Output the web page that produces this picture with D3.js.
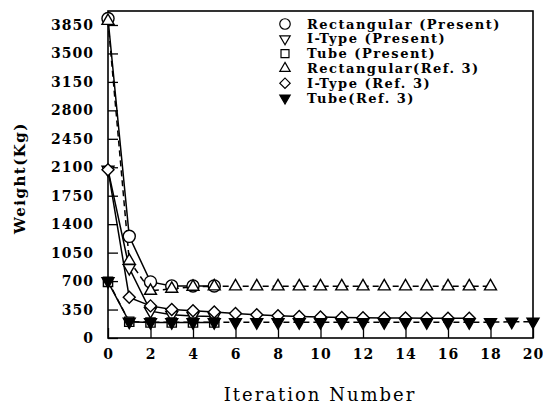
<!DOCTYPE html>
<html>
<head>
<meta charset="utf-8">
<script src="https://cdn.jsdelivr.net/npm/d3@7"></script>
<style>
  body { margin: 0; background: #fff; }
  svg { display: block; }
  .tick-label { font-family: "DejaVu Serif", serif; font-weight: bold; font-size: 14px; letter-spacing: 1px; }
  .legend-text { font-family: "DejaVu Serif", serif; font-weight: bold; font-size: 13px; letter-spacing: 1.5px; }
</style>
</head>
<body>
<div id="chart"></div>
<script>
// values (weight in Kg per iteration)
var xTicks = [0, 2, 4, 6, 8, 10, 12, 14, 16, 18, 20];
var yTicks = [0, 350, 700, 1050, 1400, 1750, 2100, 2450, 2800, 3150, 3500, 3850];

var rectPresent = [3930, 1250, 690, 640, 640, 640];
var iTypePresent = [2070, 860, 330, 285, 272, 265];
var tubePresent = [690, 200, 190, 190, 190, 190];
var rectRef = [3900, 950, 580, 605, 630, 635, 635, 635, 635, 635, 635, 635, 635, 635, 635, 635, 635, 635, 635];
var iTypeRef = [2070, 500, 395, 350, 335, 320, 300, 285, 275, 265, 258, 252, 248, 246, 245, 244, 243, 243];
var tubeRef = [700, 200, 195, 195, 195, 195, 195, 195, 195, 195, 195, 195, 195, 195, 195, 195, 195, 195, 195, 200, 200];

var seriesNames = ["Rectangular (Present)", "I-Type (Present)", "Tube (Present)",
                   "Rectangular(Ref. 3)", "I-Type (Ref. 3)", "Tube(Ref. 3)"];

var W = 543, H = 414;
var margin = {top: 11, right: 10, bottom: 76, left: 108};
var width = W - margin.left - margin.right,
    height = H - margin.top - margin.bottom;

var svg = d3.select("#chart").append("svg")
  .attr("width", W)
  .attr("height", H);
var chartGroup = svg.append("g")
  .attr("transform", "translate(" + margin.left + "," + margin.top + ")");

var xScale = d3.scaleLinear().domain([0, 20]).range([0, width]);
var yScale = d3.scaleLinear().domain([0, 4022]).range([height, 0]);

// marker shapes
var marker = {
  circle:   {sym: d3.symbolCircle, size: 115, rot: 0},
  triUp:    {sym: d3.symbolTriangle, size: 62, rot: 0},
  triDown:  {sym: d3.symbolTriangle, size: 62, rot: 180},
  square:   {sym: d3.symbolSquare, size: 85, rot: 0},
  diamond:  {sym: d3.symbolSquare, size: 72, rot: 45}
};

var series = [
  {name: seriesNames[0], values: rectPresent, mk: "circle", fill: "#fff", dash: null},
  {name: seriesNames[1], values: iTypePresent, mk: "triDown", fill: "#fff", dash: null},
  {name: seriesNames[2], values: tubePresent, mk: "square", fill: "#fff", dash: null},
  {name: seriesNames[3], values: rectRef, mk: "triUp", fill: "#fff", dash: "6,4"},
  {name: seriesNames[4], values: iTypeRef, mk: "diamond", fill: "#fff", dash: null},
  {name: seriesNames[5], values: tubeRef, mk: "triDown", fill: "#000", dash: "6,4"}
];

// axis ticks drawn inward
var xAxis = d3.axisBottom(xScale).tickValues(xTicks).tickFormat(d3.format("d"))
  .tickSizeInner(-10).tickSizeOuter(0).tickPadding(10);
var yAxis = d3.axisLeft(yScale).tickValues(yTicks).tickFormat(d3.format("d"))
  .tickSizeInner(-10).tickSizeOuter(0).tickPadding(14);

var xAxisDisplay = chartGroup.append("g")
  .attr("transform", "translate(0," + height + ")")
  .call(xAxis);
var yAxisDisplay = chartGroup.append("g").call(yAxis);

[xAxisDisplay, yAxisDisplay].forEach(function(g) {
  g.select(".domain").remove();
  g.attr("font-family", null).attr("font-size", null);
  g.selectAll("line").attr("stroke", "#000").attr("stroke-width", 1.3);
  g.selectAll("text").attr("class", "tick-label").attr("fill", "#000");
});
xAxisDisplay.selectAll("text").attr("dy", "0.8em");

// frame
chartGroup.append("rect")
  .attr("width", width)
  .attr("height", height)
  .attr("fill", "none")
  .attr("stroke", "#000")
  .attr("stroke-width", 1.6);

var line = d3.line()
  .x(function(d, i) { return xScale(i); })
  .y(function(d) { return yScale(d); });

// lines first, then markers on top
series.forEach(function(s) {
  chartGroup.append("path")
    .datum(s.values)
    .attr("d", line)
    .attr("fill", "none")
    .attr("stroke", "#000")
    .attr("stroke-width", 1.5)
    .attr("stroke-dasharray", s.dash);
});

function symPath(mk, k) {
  return d3.symbol().type(marker[mk].sym).size(marker[mk].size * (k || 1))();
}

series.forEach(function(s) {
  chartGroup.selectAll(null)
    .data(s.values)
    .enter().append("path")
    .attr("d", symPath(s.mk))
    .attr("transform", function(d, i) {
      return "translate(" + xScale(i) + "," + yScale(d) + ") rotate(" + marker[s.mk].rot + ")";
    })
    .attr("fill", s.fill)
    .attr("stroke", "#000")
    .attr("stroke-width", 1.4);
});

// legend
var legend = svg.append("g").attr("transform", "translate(285,24)");
series.forEach(function(s, i) {
  var row = legend.append("g").attr("transform", "translate(0," + (i * 14.8) + ")");
  row.append("path")
    .attr("d", symPath(s.mk, 0.75))
    .attr("transform", "rotate(" + marker[s.mk].rot + ")")
    .attr("fill", s.fill)
    .attr("stroke", "#000")
    .attr("stroke-width", 1.2);
  row.append("text")
    .attr("class", "legend-text")
    .attr("x", 22)
    .attr("dy", "0.36em")
    .text(s.name);
});

// axis titles
svg.append("text")
  .attr("x", 320)
  .attr("y", 395)
  .attr("dy", "0.35em")
  .attr("text-anchor", "middle")
  .style("font-family", "DejaVu Serif, serif")
  .style("font-size", "18px")
  .style("letter-spacing", "2px")
  .text("Iteration Number");

svg.append("text")
  .attr("transform", "translate(20,178) rotate(-90)")
  .attr("dy", "0.35em")
  .attr("text-anchor", "middle")
  .style("font-family", "DejaVu Serif, serif")
  .style("font-weight", "bold")
  .style("font-size", "15px")
  .style("letter-spacing", "1.5px")
  .text("Weight(Kg)");
</script>
</body>
</html>
